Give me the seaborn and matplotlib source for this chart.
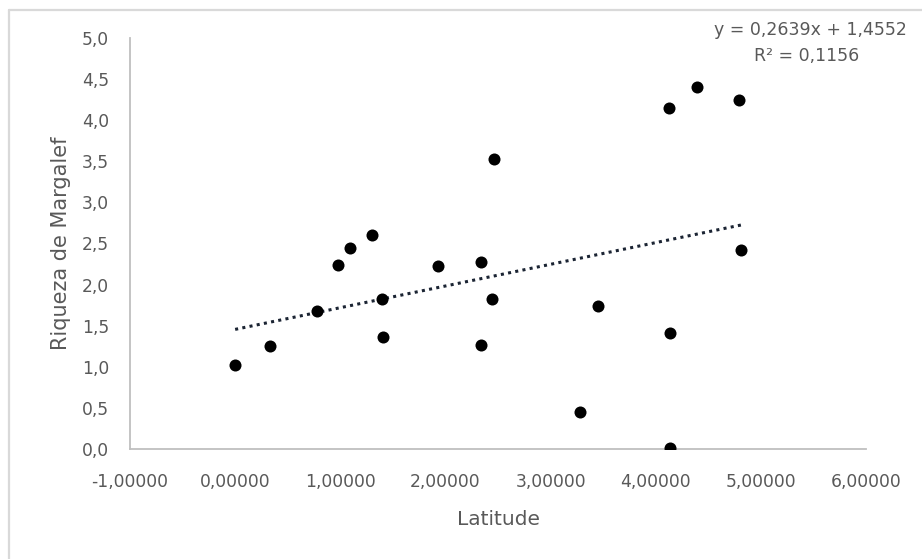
import numpy as np
import pandas as pd
import seaborn as sns
import matplotlib.pyplot as plt
from matplotlib.lines import Line2D

## Data
latitude = [0.00, 0.33, 0.78, 0.98, 1.09, 1.30, 1.40, 1.41, 1.93, 2.34,
            2.34, 2.44, 2.46, 3.28, 3.45, 4.13, 4.14, 4.14, 4.39, 4.79, 4.81]
margalef = [1.02, 1.25, 1.68, 2.24, 2.45, 2.60, 1.83, 1.36, 2.23, 2.28,
            1.26, 1.83, 3.53, 0.45, 1.74, 4.15, 1.41, 0.01, 4.40, 4.25, 2.42]
slope = 0.2639
intercept = 1.4552
r2 = 0.1156
x_ticks = [-1, 0, 1, 2, 3, 4, 5, 6]
y_ticks = [0, 0.5, 1, 1.5, 2, 2.5, 3, 3.5, 4, 4.5, 5]


def virgula(v, nd):
    # decimal comma like the Portuguese Excel chart
    return '{:.{}f}'.format(v, nd).replace('.', ',')


df = pd.DataFrame({'Latitude': latitude, 'Riqueza': margalef})
trend_x = np.array([min(latitude), max(latitude)])
trend = pd.DataFrame({'x': trend_x, 'y': slope * trend_x + intercept})

sns.set_style('white')
plt.rcParams['font.family'] = ['DejaVu Sans']
grey_txt = '#595959'
grey_line = '#BFBFBF'

fig = plt.figure(figsize=(9.22, 5.59), dpi=100)
ax = fig.add_axes([130 / 922, 1 - 449 / 559, (866 - 130) / 922, (449 - 38) / 559])

sns.scatterplot(data=df, x='Latitude', y='Riqueza', ax=ax, s=75,
                color='black', edgecolor='black', linewidth=0, zorder=3)
sns.lineplot(data=trend, x='x', y='y', ax=ax, color='#1b2433', lw=2.2,
             linestyle=(0, (1, 1.4)), zorder=2)

ax.set_xlim(-1, 6)
ax.set_ylim(0, 5)
ax.set_xticks(x_ticks)
ax.set_xticklabels([virgula(v, 5) for v in x_ticks])
ax.set_yticks(y_ticks)
ax.set_yticklabels([virgula(v, 1) for v in y_ticks])
ax.tick_params(length=0, labelsize=12.3, colors=grey_txt)
ax.tick_params(axis='x', pad=17)
ax.tick_params(axis='y', pad=15)

sns.despine(ax=ax)
for side in ['left', 'bottom']:
    ax.spines[side].set_color(grey_line)
    ax.spines[side].set_linewidth(1.3)
ax.spines['left'].set_zorder(0)

ax.set_xlabel('Latitude', fontsize=14.5, color=grey_txt, labelpad=14)
ax.set_ylabel('Riqueza de Margalef', fontsize=15, color=grey_txt, labelpad=8)

# regression equation, top right
fig.text(907 / 922, 1 - 30 / 559,
         'y = {}x + {}'.format(virgula(slope, 4), virgula(intercept, 4)),
         ha='right', va='center', fontsize=12.5, color=grey_txt)
fig.text(807 / 922, 1 - 56 / 559, 'R² = ' + virgula(r2, 4),
         ha='center', va='center', fontsize=12.5, color=grey_txt)

# chart area border (left and top visible)
fig.add_artist(Line2D([8.5 / 922, 8.5 / 922], [0, 1 - 9.5 / 559],
                      color='#D9D9D9', lw=1.6, transform=fig.transFigure))
fig.add_artist(Line2D([8.5 / 922, 1], [1 - 9.5 / 559, 1 - 9.5 / 559],
                      color='#D9D9D9', lw=1.6, transform=fig.transFigure))

fig.savefig('out.png', dpi=100)
